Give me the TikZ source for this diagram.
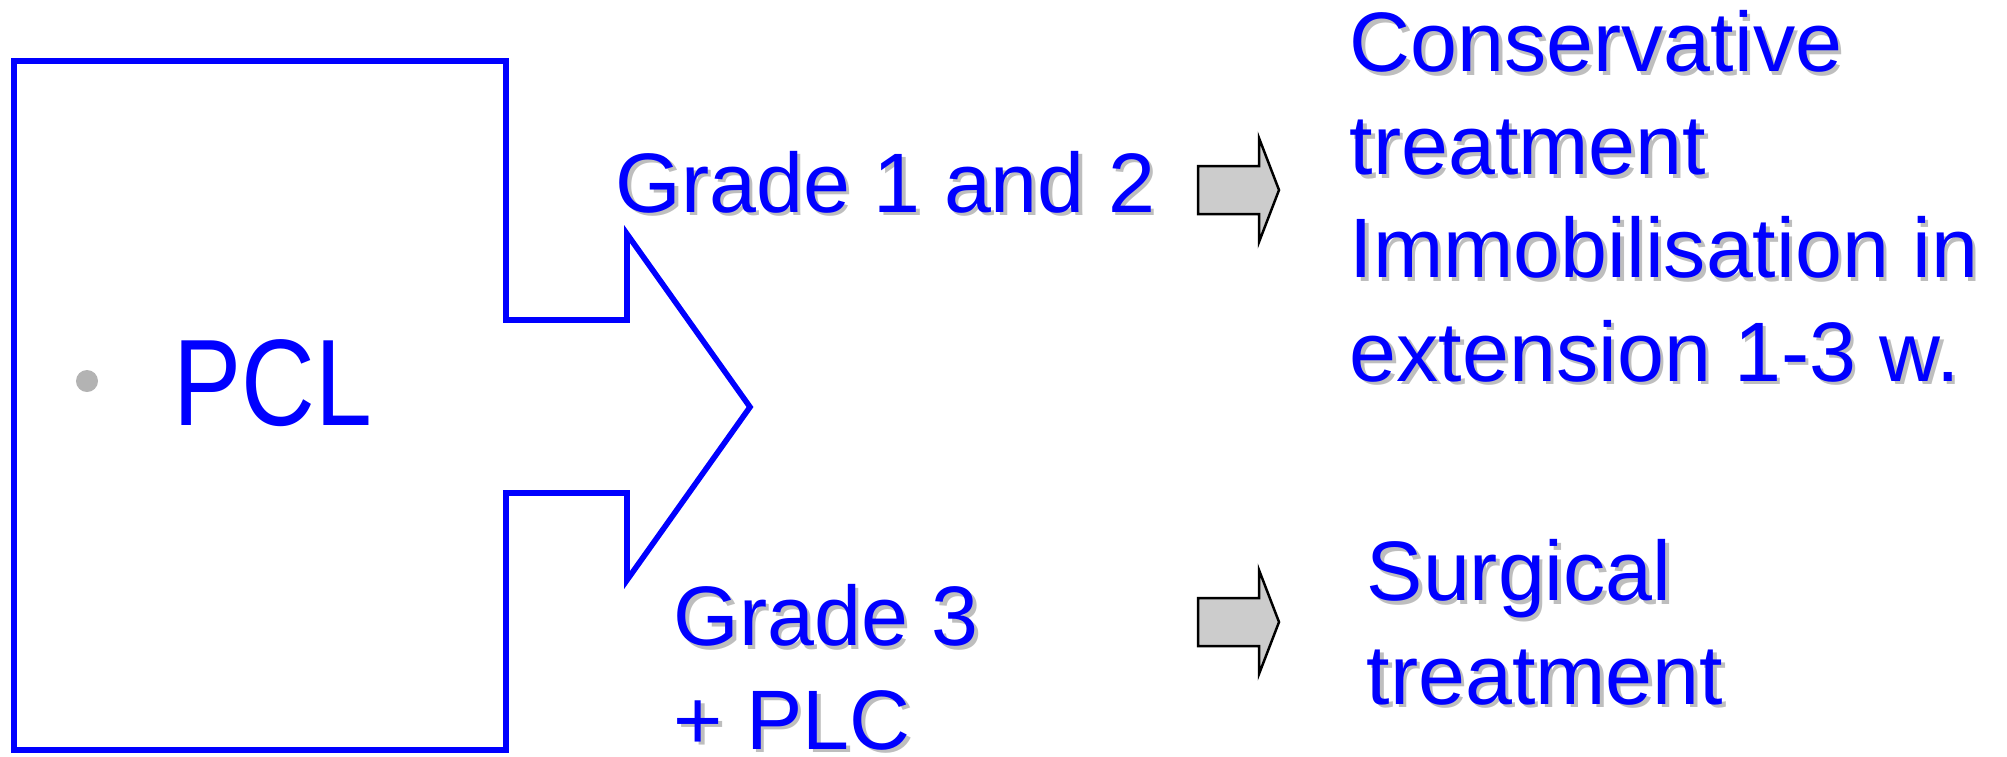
\documentclass[tikz,border=0pt]{standalone}
\usepackage{fontspec}
\setmainfont{Liberation Sans}
\usepackage{graphicx}
\definecolor{pptblue}{RGB}{0,0,255}
\definecolor{shadowgray}{RGB}{190,190,190}
\definecolor{arrowgray}{RGB}{204,204,204}
\definecolor{dotgray}{RGB}{179,179,179}
%text with a grey drop shadow
\newcommand\shtxt[1]{\leavevmode\rlap{\kern0.035cm\raisebox{-0.035cm}{\color{shadowgray}#1}}#1}

\begin{document}
\begin{tikzpicture}[x=0.01cm, y=-0.01cm,
	bluetxt/.style={text=pptblue, inner sep=0pt, anchor=base west, align=left,
		font=\fontsize{24}{29.3}\selectfont}]
			\useasboundingbox (0,0) rectangle (2007,756);
			
			%draw the big box arrow
			\draw[pptblue, line width=1.6pt] (14,61) -- (506,61) -- (506,320) -- (627,320) -- (627,234)
			-- (750,407) -- (627,580) -- (627,493) -- (506,493) -- (506,750) -- (14,750) -- cycle;
			
			%bullet and PCL
			\node[circle, fill=dotgray, inner sep=0pt, minimum size=0.22cm] (dot) at (87,381) {};
			\node[text=pptblue, inner sep=0pt, anchor=base west, font=\fontsize{35}{40}\selectfont] (pcl) at (173,425) {\scalebox{0.83}[1]{PCL}};
			
			%draw the small grey arrows
			\foreach \c in {190,622}
			\draw[line width=0.7pt, fill=arrowgray] (1198,\c-24) -- (1259,\c-24) -- (1259,\c-52) -- (1279,\c)
			-- (1259,\c+52) -- (1259,\c+24) -- (1198,\c+24) -- cycle;
			
			%grade labels (base = last line)
			\node[bluetxt] (grade12) at (615,212) {\shtxt{Grade 1 and 2}};
			\node[bluetxt] (grade3) at (673,749) {\shtxt{Grade 3}\\\shtxt{+ PLC}};
			
			%treatment labels
			\node[bluetxt] (conserv) at (1349,381) {\shtxt{Conservative}\\\shtxt{treatment}\\\shtxt{Immobilisation in}\\\shtxt{extension 1-3 w.}};
			\node[bluetxt] (surg) at (1366,704) {\shtxt{Surgical}\\\shtxt{treatment}};
		\end{tikzpicture}
\end{document}
